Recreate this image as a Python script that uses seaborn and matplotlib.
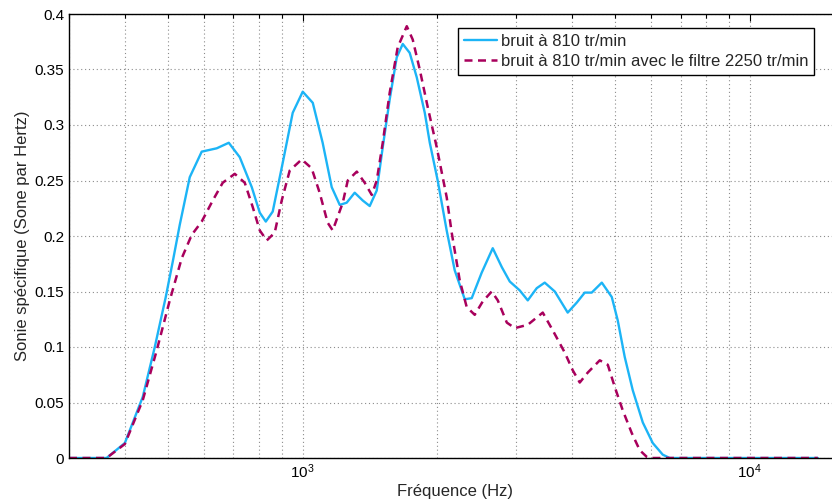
import numpy as np
import seaborn as sns
import matplotlib
matplotlib.use("Agg")
import matplotlib.pyplot as plt
from matplotlib.ticker import FuncFormatter, LogLocator, NullFormatter

# Fréquences (Hz) et sonie spécifique
freq_bruit = [300, 364, 400, 438.6, 466.7, 493.8, 512.0, 530.7, 558.8, 594.3,
              642.1, 683.2, 722.9, 769.1, 801.5, 826.7, 856.7, 902.1, 949.7, 1000,
              1053, 1108, 1161, 1210, 1254, 1307, 1362, 1412, 1464, 1510,
              1565, 1623, 1674, 1735, 1799, 1875, 1924, 2004, 2099, 2188,
              2304, 2388, 2514, 2661, 2788, 2905, 3058, 3187, 3338, 3478,
              3663, 3915, 4102, 4274, 4431, 4667, 4913, 5066, 5252, 5474,
              5764, 6067, 6388, 6622, 14200]
sonie_bruit = [0, 0, 0.0135, 0.055, 0.100, 0.145, 0.177, 0.210, 0.253, 0.276,
               0.279, 0.284, 0.271, 0.244, 0.221, 0.213, 0.222, 0.266, 0.311, 0.330,
               0.320, 0.284, 0.244, 0.228, 0.230, 0.239, 0.232, 0.227, 0.241, 0.280,
               0.323, 0.361, 0.373, 0.365, 0.343, 0.311, 0.284, 0.250, 0.205, 0.169,
               0.143, 0.144, 0.167, 0.189, 0.172, 0.159, 0.151, 0.142, 0.153, 0.158,
               0.150, 0.131, 0.140, 0.149, 0.149, 0.158, 0.145, 0.124, 0.091, 0.061,
               0.032, 0.0135, 0.003, 0, 0]

freq_filtre = [300, 364, 400, 438.6, 471.4, 504.1, 536.2, 564.5, 594.3, 629.1,
               662.3, 704.6, 741.8, 773.0, 801.5, 830.9, 865.6, 897.4, 935.2, 994.9,
               1047, 1091, 1137, 1167, 1229, 1261, 1321, 1376, 1427, 1464,
               1510, 1565, 1631, 1709, 1762, 1827, 1904, 1994, 2099, 2154,
               2245, 2327, 2425, 2527, 2647, 2731, 2861, 2981, 3187, 3443,
               3625, 3856, 4018, 4166, 4342, 4618, 4813, 4989, 5198, 5445,
               5675, 5884, 5975, 14200]
sonie_filtre = [0, 0, 0.0126, 0.052, 0.097, 0.142, 0.180, 0.201, 0.213, 0.232,
                0.248, 0.256, 0.248, 0.226, 0.205, 0.196, 0.203, 0.232, 0.259, 0.269,
                0.261, 0.239, 0.212, 0.205, 0.230, 0.250, 0.258, 0.248, 0.237, 0.250,
                0.284, 0.329, 0.370, 0.389, 0.377, 0.350, 0.316, 0.280, 0.235, 0.203,
                0.160, 0.136, 0.129, 0.141, 0.150, 0.142, 0.122, 0.117, 0.120, 0.131,
                0.115, 0.095, 0.079, 0.068, 0.077, 0.088, 0.084, 0.064, 0.043, 0.0225,
                0.007, 0.001, 0, 0]

labels = ["bruit à 810 tr/min", "bruit à 810 tr/min avec le filtre 2250 tr/min"]
couleurs = ["#1CB4F6", "#A8005C"]

sns.set_theme(style="white")
plt.rcParams["font.family"] = ["Liberation Sans", "DejaVu Sans"]
plt.rcParams["mathtext.fontset"] = "custom"
plt.rcParams["mathtext.rm"] = "Liberation Sans"
plt.rcParams["mathtext.it"] = "Liberation Sans:italic"
plt.rcParams["mathtext.bf"] = "Liberation Sans:bold"

fig = plt.figure(figsize=(8.32, 5.04), dpi=100)
ax = fig.add_axes([69 / 832, 46 / 504, (841 - 69) / 832, 444 / 504])

sns.lineplot(x=freq_bruit, y=sonie_bruit, ax=ax, color=couleurs[0], lw=1.7,
             label=labels[0], legend=False)
sns.lineplot(x=freq_filtre, y=sonie_filtre, ax=ax, color=couleurs[1], lw=1.8,
             label=labels[1], legend=False)
ax.lines[1].set_linestyle((0, (3.2, 2.2)))
for ln in ax.lines:
    ln.set_solid_joinstyle("round")
    ln.set_dash_joinstyle("round")

ax.set_xscale("log")
ax.set_xlim(300, 16000)
ax.set_ylim(0, 0.4)
ax.set_yticks(np.arange(0, 0.401, 0.05))
ax.yaxis.set_major_formatter(FuncFormatter(lambda v, p: f"{v:g}"))
ax.xaxis.set_major_locator(LogLocator(base=10))
ax.xaxis.set_minor_locator(LogLocator(base=10, subs=np.arange(2, 10)))
ax.xaxis.set_minor_formatter(NullFormatter())

ax.grid(True, which="both", axis="x", ls=(0, (1, 2.5)), color="#8c8c8c", lw=0.8)
ax.grid(True, which="major", axis="y", ls=(0, (1, 2.5)), color="#8c8c8c", lw=0.8)

ax.tick_params(axis="both", which="both", direction="in", top=True, right=True,
               labelsize=11, colors="black", width=0.8)
ax.tick_params(axis="both", which="major", length=5)
ax.tick_params(axis="x", which="minor", length=3)
for s in ax.spines.values():
    s.set_color("black")
    s.set_linewidth(1.0)

ax.set_xlabel("Fréquence (Hz)", fontsize=12, labelpad=2)
ax.set_ylabel("Sonie spécifique (Sone par Hertz)", fontsize=12, labelpad=3)

leg = ax.legend(loc="upper right", bbox_to_anchor=(814 / 832, 1 - 28 / 504),
                bbox_transform=fig.transFigure, borderaxespad=0, fontsize=12,
                frameon=True, fancybox=False, handlelength=2.0, handletextpad=0.2,
                labelspacing=0.3, borderpad=0.35)
leg.get_frame().set_edgecolor("black")
leg.get_frame().set_linewidth(1.0)
leg.get_frame().set_alpha(1)

fig.savefig("out.png", dpi=100)
